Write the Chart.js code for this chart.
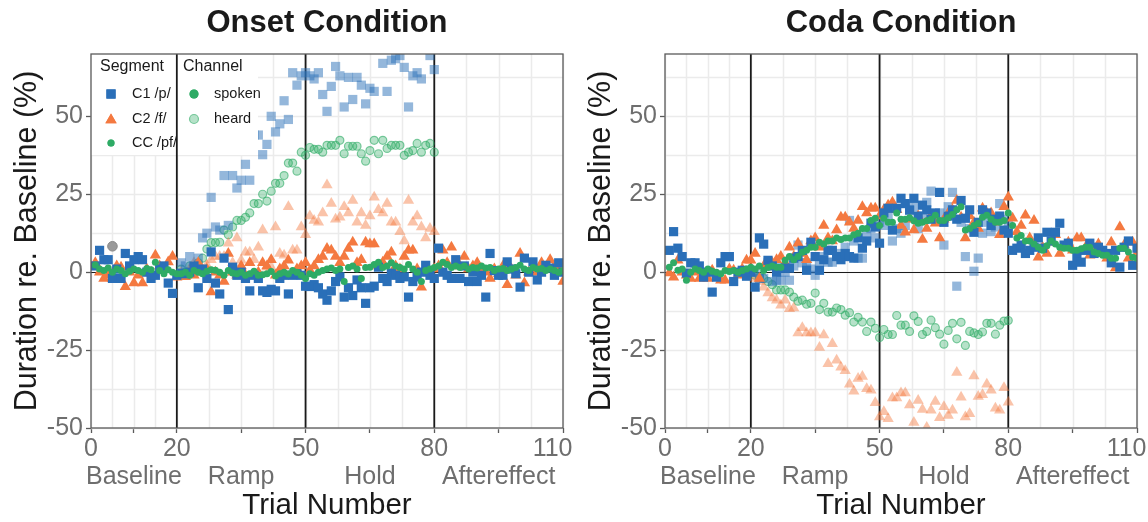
<!DOCTYPE html>
<html><head><meta charset="utf-8">
<script src="https://cdn.jsdelivr.net/npm/chart.js@4.4.1/dist/chart.umd.min.js"></script>
<style>
html,body{margin:0;padding:0;background:#fff;}
#wrap{position:relative;width:1148px;height:522px;overflow:hidden;}
canvas{position:absolute;top:0;}
#onset{left:0;z-index:1;}
#coda{left:574px;z-index:2;}
</style></head><body>
<div id="wrap"><canvas id="onset" width="600" height="522"></canvas><canvas id="coda" width="574" height="522"></canvas></div>
<script>
// ---- categories / ticks ----
const trials = Array.from({length:110}, (_, i) => i + 1);
const heardTrials = Array.from({length:60}, (_, i) => i + 21);
const xTicks = [0, 10, 20, 35, 50, 65, 80, 95, 110];
const xLabels = [['0',''],['','Baseline'],['20',''],['','Ramp'],['50',''],['','Hold'],['80',''],['','Aftereffect'],['110   ','']];
const xMinor = [5, 15, 27.5, 42.5, 57.5, 72.5, 87.5, 102.5];
const phaseBounds = [20, 50, 80];
const yTicks = [-50, -25, 0, 25, 50];
const yMinor = [-37.5, -12.5, 12.5, 37.5, 62.5];

// ---- Onset condition ----
const onsetC1 = [2,7,4,4,-2,1,-2,6,2,4, 5,4,0,-2,-1,1,2,-3.5,-6.8,-1,
 -0.3,-0.5,0,2,-5,1,-2,6.5,-3.5,-7, 4.5,-12,1.6,-1,0,-2,-6,-1,-2,-6,
 -6.5,-5.5,-6,-2,-1,-7,-1,-0.5,-1,-4.5, -4.6,-4,-5,-7,-9,-6,-3,-1.5,-8,-5,
 -7.5,-2.5,-5,-10,-5,-4.5,1.6,-2,-3,-0.3, -1,-2,-1.5,-8,-3,-1.5,0,2.2,-1,-2,
 7.7,0,-1,-2,4,-2,2,-3,0,-3, -1,-8,6,0.5,-1,-1,3.3,1,-0.5,-4.8, 4.5,0,3.3,-2.5,0,2.2,1.3,-1,3,0];
const onsetC2 = [3,0,-2,-1,-2,2,1.6,-4.7,0,-3.5, -1,-3.5,1,0,5.4,2,1,3.3,5,-1.6,
 -1,-1.5,0,-1,3,0,1,-6.4,0,-1, -3,6,0,-1,2,-1,3,-1,0,3,
 2,4,-1,1,2,3.8,-1,1,2,3, 0.6,2,4,5,7.6,7,5,3,5,7.6,
 9.6,3,4,9.6,9,9,2,3.2,5,6.4, 2,1,5,7,7,1,-4.8,0,0,1,
 2,7,3,8,3,2,5,1,2,3, 1,0,-2,1,-0.5,2,-4,1,-1,6, -3.5,0,1,0,3,1,4,2,1,-3];
const onsetCC = [2.3,1,0.5,1.3,0,1,0.5,-0.5,0.3,1, 0.5,0,1.2,0.8,3.2,0.5,-0.5,0.8,0,-0.5,
 -0.5,0,-1,0.5,0,-0.5,0.3,0.8,0.6,0, -1,0.5,-0.3,-0.5,0,-1,-0.5,0.3,-1,-0.8,
 -0.5,0.2,-1.2,-0.5,0,-0.6,0.5,0,-1,-2, -0.5,-1,0,0.5,1,1.3,0.5,1,-3,1.5,
 2,1,-2,1.5,1.6,2.5,3.2,1.5,2,3, 2,1.5,1,2.5,1,0,-3,0.5,1,1.5,
 2,3.2,2.5,1.5,2,1.5,2,1,1.5,1.3, 2,1.3,1.5,0.5,1,1.2,0.5,1,1.5,2.2, 1,0.5,1.5,1,1.2,0.5,1,0.5,0,0.5];
const onsetHeardC1 = [3,2,5,1,4.5,11,12.5,24,14.5,13.5, 31,15,31,27,29.5,34.6,29.5,44,44,37.7,
 41,50,45,47.6,55,49,64,60,63,64, 63,62,64,57,51.6,59.6,66,63,53,62.5,
 55.4,62.5,60,54,59,58,72,67,58,68, 68.5,69.5,65.7,53,63,64,62,73,69.5,65];
const onsetHeardC2 = [0,-1,1,3,2,1,2.2,4,5,5, 5,9.3,3,11,3.8,6.4,6.4,4,8,13.5,
 1.6,1.6,14.5,6,5.4,21,7,7,14.5,12, 18,16.6,16,19,28,22,17,17.6,21,19,
 23,16,19,15,18,24,20,19,22,16, 16,13,10,23,16,18,14.5,11,14,13];
const onsetHeardCC = [1,0,2,1,3,4.5,7.4,9.5,9.5,9.6, 13.5,12,14.5,16.6,16.6,17.6,19,22,22,25,
 22.8,26,28.5,28.5,31,35,35,32.4,38.5,37.5, 40,39.4,39.4,38.5,40.7,40.7,40.7,42.3,38,40.4,
 40.4,40.4,38,35.6,39,42.3,38,42.3,39.7,40.7, 40.7,40.7,37.5,38.5,39,41.3,38.5,40.7,41.3,38.5];
const onsetGreyTrial = [5];
const onsetGreyValue = [8.3];

// ---- Coda condition ----
const codaC1 = [7,13,7.7,5,-0.3,3,3,2,-1.6,0, -6.4,-1.6,3,5,5,-3,0,0.6,-1.3,0,
 -4.8,11,9,3.8,2,0,1.3,1.3,1.3,4.5, 5,7,0.6,9.6,5,0.6,4,7,7,5,
 4,6,5,4.5,11,7.7,10,15.7,14.5,9.3, 19,20.5,13.5,20.5,23.7,22,19.9,23.7,18,21.5,
 20,17,19,25.6,16,18,20,17,23,17.3, 20,12.8,16,20,19,15,17,18,13.5,12.5,
 7,7.7,8.7,6,7,8,11,7.7,12.8,10, 12.8,15.7,8.7,9.3,2.2,5,3.2,7,9.3,6, 8,7,6,3,7,1.6,8,10,2.2,7.7];
const codaC2 = [-0.3,-1.6,3.8,0,-1,-2,0,-2,-1,-2, 0.6,-1,-2.6,-2.6,1,0.6,-1,1,3.8,3.8,
 6,-2,2,3,3,4,5,3,8,5, 9.3,6,4,10,11,8,15,11,10,13.5,
 17.6,17.6,16,14,16.6,21,19,20.5,20.5,18, 20,21.5,22.4,20,15,12.8,17,13.5,18,10.5,
 14,18.3,15.7,11,17,19,20,23,17.6,11, 18,16,14,20.5,19,19,16,12,21,24,
 17.3,13,15,18.3,11,16.6,4.8,8,6,9.6, 12,6,8,9.6,7,11,11,8,5.4,7, 9,6,4.5,9.6,1.3,14.5,8.7,4.5,9.6,6];
const codaCC = [1.6,3,0.6,1,-2.6,0,1,0.5,0,1, 0.3,0,-0.5,0.5,0.2,0.5,0,0.5,1,1.6,
 1,2,0.5,1.5,2,1.6,1.6,3.8,5,4, 5,6.4,7,8,8,9.6,9,10,10,11,
 10.5,11,11,12,12.5,14,14,16.6,17.3,15, 17.3,16,16,19,17,17,17.5,16.5,15.7,16,
 16.5,17,18.3,16.6,16.6,17.5,18.5,20,21,13.5, 14,15,15.7,17.6,18.3,17,16,16,16.6,19,
 15,11,11.8,10,10,9,8,7,8.5,10, 9,8,7.7,7.7,7,7,7.5,8,8,6.5, 6,5.4,5.4,4.5,4.5,7.7,7.7,6.5,4.8,4.5];
const codaHeardC1 = [0,-2,-2,3,-3,-2.6,-2.6,0,-2.6,2, 8.7,3,3,1,-1,3,5,3.2,3.2,6,
 5,8,16.6,10,4.5,4.5,12,14,11,16, 15,18,10,14,12.5,15,20,21,14,18,
 22.4,26,18,19,8.7,21,25.6,-4.5,16,5, 14,0.3,4.5,12.5,16,13,14.5,22,17,15];
const codaHeardC2 = [-2,-3,-4.8,-6.7,-8.3,-9,-10.6,-9,-11.7,-11.5, -19.5,-17.8,-19.5,-19.5,-19.5,-24.2,-20.2,-29.4,-23,-28.3,
 -30.5,-31.6,-36,-38.2,-34.1,-33.5,-37.4,-37.9,-41.9,-46.5, -44.8,-47,-40.4,-40.4,-38.8,-38.8,-42.6,-48.2,-41.2,-44.1,
 -49.8,-44.3,-41.5,-46.7,-43.2,-46,-44.3,-32.2,-40.1,-46.5, -45.4,-33.3,-39.9,-39.3,-36,-37.9,-43.7,-44.3,-37.1,-41.7];
const codaHeardCC = [-1,-1.5,-2,-3,-4,-5.7,-5.7,-5.7,-6.4,-8, -9.3,-9,-10.3,-10,-6.7,-12,-10,-12.8,-12.8,-11.5,
 -12,-13.8,-13,-16,-14.5,-16,-19,-16,-18,-21, -18.4,-20,-20,-13.9,-17,-17,-19,-14,-15.8,-20,
 -19,-15.4,-17.8,-19.9,-23.1,-18.7,-16.4,-21.4,-16.1,-23.5, -19,-19.5,-20,-19.2,-16.4,-16.4,-19.9,-17,-15.7,-15.5];

// ---- styles ----
const FONT = "'Liberation Sans', Arial, Helvetica, sans-serif";
const BLUE = '#2a6fb8', ORANGE = '#f47940', GREEN = '#2eab65';
const BLUE_H = 'rgba(42,111,184,0.5)', ORANGE_H = 'rgba(244,121,64,0.45)';
const GREEN_HF = 'rgba(46,171,101,0.35)', GREEN_HB = 'rgba(46,171,101,0.6)';
const GREY_TXT = '#6e6e6e', INK = '#1a1a1a', FRAME = '#5a5a5a', GRID = '#ebebeb';

const pts = (xs, ys) => xs.map((x, i) => ({x, y: ys[i]}));

function ds(label, xs, ys, style, radius, fill, border, bw) {
  return {label, data: pts(xs, ys), pointStyle: style, pointRadius: radius,
    pointBackgroundColor: fill, pointBorderColor: border || fill, pointBorderWidth: bw || 0,
    showLine: false};
}

function decor(title, withLegend) {
  return {
    id: 'decor',
    beforeDatasetsDraw(chart) {
      const {ctx, chartArea: a, scales: {x, y}} = chart;
      ctx.save();
      ctx.strokeStyle = GRID;
      ctx.lineWidth = 1.5;
      const vlines = xMinor.concat(xTicks);
      for (const v of vlines) { const px = Math.round(x.getPixelForValue(v)) + 0.5; ctx.beginPath(); ctx.moveTo(px, a.top); ctx.lineTo(px, a.bottom); ctx.stroke(); }
      const hlines = yMinor.concat(yTicks);
      for (const v of hlines) { const py = Math.round(y.getPixelForValue(v)) + 0.5; ctx.beginPath(); ctx.moveTo(a.left, py); ctx.lineTo(a.right, py); ctx.stroke(); }
      ctx.strokeStyle = INK; ctx.lineWidth = 1.1;
      const y0 = Math.round(y.getPixelForValue(0)) + 0.5;
      ctx.beginPath(); ctx.moveTo(a.left, y0); ctx.lineTo(a.right, y0); ctx.stroke();
      ctx.lineWidth = 1.8;
      for (const v of phaseBounds) { const px = x.getPixelForValue(v); ctx.beginPath(); ctx.moveTo(px, a.top); ctx.lineTo(px, a.bottom); ctx.stroke(); }
      ctx.restore();
    },
    afterDatasetsDraw(chart) {
      const {ctx, chartArea: a, scales: {x}} = chart;
      ctx.save();
      if (withLegend) {
        const L = a.left, T = a.top, R = 258, B = 155;
        ctx.fillStyle = '#fff';
        ctx.fillRect(L, T, R - L, B - T);
        ctx.strokeStyle = INK; ctx.lineWidth = 1.8;
        const px = x.getPixelForValue(20);
        ctx.beginPath(); ctx.moveTo(px, T); ctx.lineTo(px, B); ctx.stroke();
        ctx.fillStyle = INK; ctx.textBaseline = 'middle'; ctx.textAlign = 'left';
        ctx.font = `16px ${FONT}`;
        ctx.fillText('Segment', 100, 67);
        ctx.fillText('Channel', 183, 67);
        ctx.font = `14.5px ${FONT}`;
        ctx.fillText('C1 /p/', 132, 94);
        ctx.fillText('C2 /f/', 132, 119);
        ctx.fillText('CC /pf/', 132, 143);
        ctx.fillText('spoken', 214, 94);
        ctx.fillText('heard', 214, 119);
        const H = Chart.helpers;
        ctx.fillStyle = BLUE; ctx.strokeStyle = BLUE; ctx.lineWidth = 0;
        H.drawPoint(ctx, {pointStyle: 'rect', radius: 6.5, rotation: 0, borderWidth: 0}, 111, 94); ctx.fill();
        ctx.fillStyle = ORANGE; ctx.strokeStyle = ORANGE;
        H.drawPoint(ctx, {pointStyle: 'triangle', radius: 6.5, rotation: 0, borderWidth: 0}, 111, 120); ctx.fill();
        ctx.fillStyle = GREEN; ctx.strokeStyle = GREEN;
        H.drawPoint(ctx, {pointStyle: 'circle', radius: 3.5, rotation: 0, borderWidth: 0}, 111, 143); ctx.fill();
        H.drawPoint(ctx, {pointStyle: 'circle', radius: 4.5, rotation: 0, borderWidth: 0}, 194, 94); ctx.fill();
        ctx.fillStyle = GREEN_HF; ctx.strokeStyle = GREEN_HB; ctx.lineWidth = 1.2;
        H.drawPoint(ctx, {pointStyle: 'circle', radius: 4.5, rotation: 0, borderWidth: 1.2}, 194, 119);
      }
      ctx.strokeStyle = FRAME; ctx.lineWidth = 1.3;
      ctx.strokeRect(a.left, a.top, a.right - a.left, a.bottom - a.top);
      ctx.restore();
    },
    afterDraw(chart) {
      const {ctx, chartArea: a} = chart;
      ctx.save();
      ctx.fillStyle = INK; ctx.textAlign = 'center'; ctx.textBaseline = 'middle';
      ctx.font = `bold 31px ${FONT}`;
      ctx.fillText(title, (a.left + a.right) / 2, 23);
      ctx.font = `29.5px ${FONT}`;
      ctx.fillText('Trial Number', (a.left + a.right) / 2, 506);
      ctx.font = `30.5px ${FONT}`;
      ctx.translate(28, (a.top + a.bottom) / 2);
      ctx.rotate(-Math.PI / 2);
      ctx.fillText('Duration re. Baseline (%)', 0, 0);
      ctx.restore();
    }
  };
}

function makeChart(id, title, d, withLegend, rightPad) {
  const datasets = [
    ds('CC spoken', trials, d.cc, 'circle', 3.5, GREEN),
    ds('C1 spoken', trials, d.c1, 'rect', 6.5, BLUE),
    ds('C2 spoken', trials, d.c2, 'triangle', 6.5, ORANGE),
    ds('C1 heard', heardTrials, d.hc1, 'rect', 6.5, BLUE_H),
    ds('C2 heard', heardTrials, d.hc2, 'triangle', 6.5, ORANGE_H),
    ds('CC heard', heardTrials, d.hcc, 'circle', 4, GREEN_HF, GREEN_HB, 1.2)
  ];
  if (d.greyX) datasets.push(ds('other', d.greyX, d.greyY, 'circle', 4.8, '#9a9a9a', '#888', 1));
  return new Chart(document.getElementById(id), {
    type: 'scatter',
    data: {datasets},
    options: {
      responsive: false, animation: false, devicePixelRatio: 1,
      layout: {padding: {top: 54, right: rightPad, left: 0, bottom: 0}},
      plugins: {legend: {display: false}, tooltip: {enabled: false}, title: {display: false}},
      scales: {
        x: {type: 'linear', min: 0, max: 110,
          afterBuildTicks: s => { s.ticks = xTicks.map(v => ({value: v})); },
          afterFit: s => { s.height = 94; s.paddingLeft = 0; s.paddingRight = 0; },
          grid: {drawOnChartArea: false, drawTicks: true, tickLength: 5, tickColor: FRAME, tickWidth: 1.3},
          border: {display: false},
          ticks: {autoSkip: false, maxRotation: 0, minRotation: 0, color: GREY_TXT, padding: 2,
            font: {family: FONT, size: 25, lineHeight: 1.12},
            callback: v => xLabels[xTicks.indexOf(v)] || ''}
        },
        y: {type: 'linear', min: -50, max: 70,
          afterBuildTicks: s => { s.ticks = yTicks.map(v => ({value: v})); },
          afterFit: s => { s.width = 91; s.paddingTop = 0; s.paddingBottom = 0; },
          grid: {drawOnChartArea: false, drawTicks: true, tickLength: 5, tickColor: FRAME, tickWidth: 1.3},
          border: {display: false},
          ticks: {color: GREY_TXT, padding: 3, font: {family: FONT, size: 25}, callback: v => String(v)}
        }
      }
    },
    plugins: [decor(title, withLegend)]
  });
}

makeChart('onset', 'Onset Condition', {c1: onsetC1, c2: onsetC2, cc: onsetCC,
  hc1: onsetHeardC1, hc2: onsetHeardC2, hcc: onsetHeardCC, greyX: onsetGreyTrial, greyY: onsetGreyValue}, true, 37);
makeChart('coda', 'Coda Condition', {c1: codaC1, c2: codaC2, cc: codaCC,
  hc1: codaHeardC1, hc2: codaHeardC2, hcc: codaHeardCC}, false, 11);
</script>
</body></html>
